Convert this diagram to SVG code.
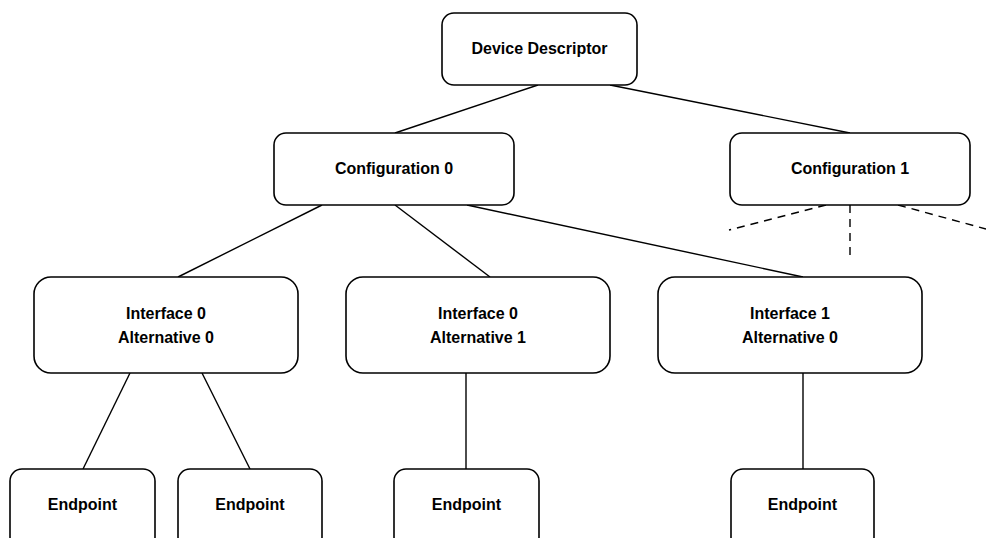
<svg xmlns="http://www.w3.org/2000/svg" width="986" height="538" viewBox="0 0 986 538">
<style>
.box{fill:#fff;stroke:#000;stroke-width:1.6}
.t{font-family:"Liberation Sans",Arial,sans-serif;font-weight:bold;font-size:16px;text-anchor:middle;fill:#000}
.c{stroke:#000;stroke-width:1.4;fill:none}
.d{stroke:#000;stroke-width:1.4;fill:none;stroke-dasharray:8 6}
</style>
<rect width="986" height="538" fill="#fff"/>
<g id="connectors">
<line class="c" x1="538" y1="85" x2="395" y2="133"/>
<line class="c" x1="610" y1="85" x2="850" y2="133"/>
<line class="c" x1="322" y1="205" x2="178" y2="277"/>
<line class="c" x1="395" y1="205" x2="490" y2="277"/>
<line class="c" x1="467" y1="205" x2="803" y2="277"/>
<line class="c" x1="130" y1="373" x2="83" y2="469"/>
<line class="c" x1="202" y1="373" x2="250" y2="469"/>
<line class="c" x1="466" y1="373" x2="466" y2="469"/>
<line class="c" x1="803" y1="373" x2="803" y2="469"/>
<line class="d" x1="826" y1="205" x2="729" y2="230"/>
<line class="d" x1="850" y1="205" x2="850" y2="256"/>
<line class="d" x1="898" y1="205" x2="986" y2="229"/>
</g>
<g id="device">
<rect class="box" x="442" y="13" width="195" height="72" rx="12"/>
<text class="t" x="539.5" y="54">Device Descriptor</text>
</g>
<g id="config0">
<rect class="box" x="274" y="133" width="240" height="72" rx="12"/>
<text class="t" x="394" y="174">Configuration 0</text>
</g>
<g id="config1">
<rect class="box" x="730" y="133" width="240" height="72" rx="12"/>
<text class="t" x="850" y="174">Configuration 1</text>
</g>
<g id="if0alt0">
<rect class="box" x="34" y="277" width="264" height="96" rx="17"/>
<text class="t" x="166" y="319">Interface 0</text>
<text class="t" x="166" y="343">Alternative 0</text>
</g>
<g id="if0alt1">
<rect class="box" x="346" y="277" width="264" height="96" rx="17"/>
<text class="t" x="478" y="319">Interface 0</text>
<text class="t" x="478" y="343">Alternative 1</text>
</g>
<g id="if1alt0">
<rect class="box" x="658" y="277" width="264" height="96" rx="17"/>
<text class="t" x="790" y="319">Interface 1</text>
<text class="t" x="790" y="343">Alternative 0</text>
</g>
<g id="ep1">
<rect class="box" x="10" y="469" width="145" height="80" rx="12"/>
<text class="t" x="82.5" y="510">Endpoint</text>
</g>
<g id="ep2">
<rect class="box" x="178" y="469" width="144" height="80" rx="12"/>
<text class="t" x="250" y="510">Endpoint</text>
</g>
<g id="ep3">
<rect class="box" x="394" y="469" width="145" height="80" rx="12"/>
<text class="t" x="466.5" y="510">Endpoint</text>
</g>
<g id="ep4">
<rect class="box" x="731" y="469" width="143" height="80" rx="12"/>
<text class="t" x="802.5" y="510">Endpoint</text>
</g>
</svg>
